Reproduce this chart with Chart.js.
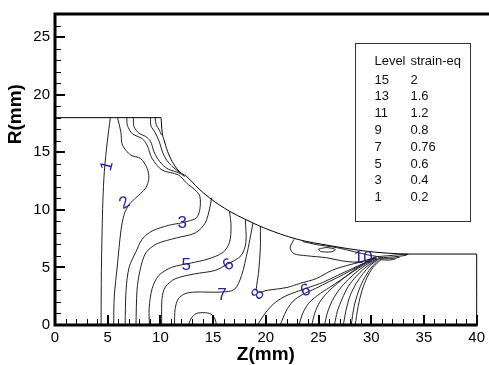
<!DOCTYPE html>
<html>
<head>
<meta charset="utf-8">
<script src="https://cdn.jsdelivr.net/npm/chart.js@4.4.1/dist/chart.umd.min.js"></script>
<style>
html,body{margin:0;padding:0;background:#fff;}
canvas{display:block;}
</style>
</head>
<body>
<canvas id="c" width="489" height="365"></canvas>
<script>
// ---------- data (Z, R in mm) ----------
const zTicks = [0, 5, 10, 15, 20, 25, 30, 35, 40];
const rTicks = [0, 5, 10, 15, 20, 25];

const legendLevels = ['15', '13', '11', '9', '7', '5', '3', '1'];
const legendStrain = ['2', '1.6', '1.2', '0.8', '0.76', '0.6', '0.4', '0.2'];

// workpiece / die outline
const outline = [[0,18],[10.05,18],[10.14,16.92],[10.40,15.89],[10.77,14.86],[11.24,14.0],[11.80,13.32],[12.49,12.89],[13.58,11.88],[14.68,11.02],[16.55,9.88],[18.11,9.15],[19.83,8.43],[22.95,7.45],[26.08,6.89],[29.23,6.44],[31.5,6.24],[33.6,6.16],[40,6.16],[40,0]];

// contour lines
const c1 = [[5.25,18],[4.96,15.9],[4.68,13.32],[4.54,10.74],[4.47,8.16],[4.40,4.73],[4.37,0]];
const c2 = [[5.93,18],[6.25,16.75],[6.40,15.61],[7.19,14.75],[8.12,14.46],[8.74,13.60],[8.90,12.74],[8.59,11.88],[7.65,11.02],[7.03,10.46],[6.56,9.60],[6.25,8.16],[5.93,5.30],[5.62,2.43],[5.57,0]];
const c3 = [[6.81,18],[6.87,17.33],[7.33,16.61],[8.27,16.18],[8.74,15.61],[9.21,14.46],[10.15,13.46],[11.71,13.03],[12.49,12.31],[13.27,11.74],[13.74,11.17],[13.74,10.03],[13.42,9.30],[12.65,9.02],[12.02,8.87],[10.77,8.65],[9.21,8.16],[8.27,7.45],[7.65,6.30],[7.03,5.01],[6.74,3.01],[6.65,0]];
const c3a = [[7.43,18],[7.49,17.23],[7.96,16.65],[8.59,16.37],[9.06,15.95],[9.37,15.09],[9.68,14.52],[10.15,13.95],[10.77,13.52],[11.71,13.23],[12.3,12.9]];
const c3b = [[9.06,18],[9.1,17.3],[9.5,16.7],[9.9,15.9],[10.2,15.0],[10.6,14.3],[11.2,13.7],[11.9,13.2]];
const c3c = [[9.5,18],[9.6,17.4],[9.9,16.9],[10.1,16.5]];
const c4 = [[14.85,11.04],[14.68,10.14],[14.24,8.85],[13.30,7.99],[11.52,7.56],[9.65,7.04],[8.62,6.27],[8.06,4.73],[7.78,3.01],[7.68,0]];
const c5 = [[16.55,9.88],[16.70,8.59],[16.55,7.16],[15.93,6.30],[14.52,5.73],[12.96,5.39],[11.08,5.01],[9.84,4.30],[9.21,3.15],[8.93,1.43],[8.96,0]];
const c6 = [[18.06,9.11],[18.11,7.16],[17.64,6.01],[16.39,5.30],[15.15,4.73],[13.27,4.44],[11.40,4.01],[10.46,3.29],[10.15,2.29],[10.12,0]];
const c7 = [[18.78,8.85],[18.55,7.73],[18.27,6.44],[17.70,4.30],[17.02,3.09],[15.77,2.86],[13.27,2.86],[12.34,2.72],[11.71,2.29],[11.40,1.43],[11.33,0]];
const c8 = [[19.48,8.58],[19.48,6.70],[19.30,4.47],[19.11,3.18],[19.25,2.85],[20.14,3.01],[22.01,3.26],[23.23,3.61],[24.82,4.04],[26.23,4.73],[27.63,5.15],[29.13,5.50],[30.16,5.76]];
const cDome = [[12.65,0],[12.93,0.60],[13.39,0.99],[14.14,1.07],[14.80,0.95],[15.18,0.52],[15.32,0]];
const f1 = [[19.20,0],[19.95,1.03],[20.70,1.80],[21.64,2.41],[22.76,2.84],[24.07,3.26],[25.39,3.69],[26.79,4.30],[28.20,4.90],[29.41,5.41],[30.35,5.84]];
const f2 = [[21.36,0],[21.92,1.20],[22.58,2.06],[23.51,2.66],[24.73,3.18],[26.04,3.78],[27.35,4.38],[28.57,4.98],[29.60,5.50],[30.44,5.84]];
const f3 = [[23.14,0],[23.51,1.03],[24.07,1.89],[24.92,2.58],[26.04,3.26],[27.17,3.95],[28.29,4.64],[29.32,5.24],[30.44,5.84]];
const f4 = [[24.36,0],[24.64,1.03],[25.11,1.98],[25.86,2.84],[26.79,3.61],[27.82,4.38],[28.85,5.07],[29.88,5.58],[30.54,5.84]];
const f5 = [[25.57,0],[25.86,1.12],[26.32,2.15],[26.98,3.09],[27.82,3.95],[28.76,4.73],[29.70,5.33],[30.54,5.76]];
const f6 = [[26.51,0],[26.79,1.20],[27.26,2.32],[27.82,3.35],[28.57,4.21],[29.32,4.90],[30.07,5.41],[30.63,5.76]];
const f7 = [[27.35,0],[27.63,1.37],[28.01,2.58],[28.57,3.61],[29.23,4.47],[29.88,5.15],[30.73,5.76]];
const f8 = [[28.10,0],[28.38,1.63],[28.76,2.84],[29.23,3.87],[29.79,4.73],[30.35,5.33],[30.82,5.76]];
const f9 = [[28.48,0],[28.76,1.63],[29.13,3.01],[29.60,4.12],[30.16,4.98],[30.91,5.67]];
const e1 = [[30.44,5.93],[31.57,6.01],[32.60,6.10],[33.54,6.14]];
const e2 = [[30.63,5.84],[31.66,5.88],[32.69,5.97],[33.35,6.06]];
const e3 = [[30.73,5.76],[31.85,5.76],[32.69,5.88]];
const e4 = [[30.82,5.67],[31.76,5.63],[32.32,5.76]];
const u1 = [[22.67,7.43],[22.30,6.70],[22.67,6.19],[23.89,6.01],[25.76,5.84],[27.17,5.58],[28.57,5.46],[29.70,5.67],[30.44,5.93]];
const u2 = [[23.5,7.25],[24.8,6.98],[26.7,6.72],[28.4,6.36],[29.7,6.08],[30.5,5.96]];
const uLoop = [[25.0,6.6],[25.8,6.72],[26.6,6.55],[26.2,6.35],[25.2,6.38],[25.0,6.6]];

const contours = [c1,c2,c3,c3a,c3b,c3c,c4,c5,c6,c7,c8,cDome,f1,f2,f3,f4,f5,f6,f7,f8,f9,e1,e2,e3,e4,u1,u2,uLoop];

// contour labels: text, Z, R, rotation (deg)
const labelText = ['1','2','3','5','6','7','8','6','10'];
const labelZ    = [4.87, 6.56, 12.08, 12.46, 16.39, 15.83, 19.20, 23.75, 29.23];
const labelR    = [13.83, 10.65, 8.89, 5.28, 5.28, 2.66, 2.71, 3.05, 5.88];
const labelRot  = [-75, -30, 0, 0, -35, 0, -60, -20, 0];

// ---------- chart ----------
const toXY = arr => arr.map(p => ({x: p[0], y: p[1]}));
const datasets = [
  {data: toXY(outline), borderColor: '#000', borderWidth: 1, tension: 0.3, cubicInterpolationMode: 'monotone'}
].concat(contours.map(c => ({data: toXY(c), borderColor: '#222', borderWidth: 1, tension: 0.3})));
datasets.forEach(d => { d.showLine = true; d.pointRadius = 0; d.fill = false; d.clip = false; });
// outline sharp corners: no smoothing at ends
datasets[0].tension = 0;

const frame = {
  id: 'frame',
  afterDraw(chart) {
    const {ctx, chartArea: a, scales: {x, y}} = chart;
    ctx.save();
    ctx.strokeStyle = '#000';
    ctx.lineCap = 'butt';
    // axis lines
    ctx.lineWidth = 3;
    ctx.beginPath();
    ctx.moveTo(a.left, a.top); ctx.lineTo(chart.width, a.top);
    ctx.moveTo(a.left, a.top - 1.5); ctx.lineTo(a.left, a.bottom + 1.5);
    ctx.moveTo(a.left - 1.5, a.bottom); ctx.lineTo(a.right + 1, a.bottom);
    ctx.stroke();
    // inward ticks
    for (let v = 0; v <= 40; v++) {
      const px = Math.round(x.getPixelForValue(v));
      const major = v % 5 === 0;
      ctx.lineWidth = major ? 2 : 1;
      ctx.beginPath();
      ctx.moveTo(px + (major ? 0 : 0.5), a.bottom);
      ctx.lineTo(px + (major ? 0 : 0.5), a.bottom - (major ? 10 : 6));
      ctx.stroke();
    }
    for (let v = 0; v <= 27; v++) {
      const py = Math.round(y.getPixelForValue(v));
      const major = v % 5 === 0;
      ctx.lineWidth = major ? 2 : 1;
      ctx.beginPath();
      ctx.moveTo(a.left, py + (major ? 0 : 0.5));
      ctx.lineTo(a.left + (major ? 10 : 6), py + (major ? 0 : 0.5));
      ctx.stroke();
    }
    // axis titles
    ctx.fillStyle = '#000';
    ctx.font = 'bold 19px "Liberation Sans", Arial, sans-serif';
    ctx.textAlign = 'center';
    ctx.textBaseline = 'middle';
    ctx.fillText('Z(mm)', (a.left + a.right) / 2, 355);
    ctx.save();
    ctx.translate(16, y.getPixelForValue(18.3));
    ctx.rotate(-Math.PI / 2);
    ctx.fillText('R(mm)', 0, 0);
    ctx.restore();

    // contour labels
    ctx.fillStyle = '#23239c';
    ctx.font = '17px "Liberation Sans", Arial, sans-serif';
    for (let i = 0; i < labelText.length; i++) {
      ctx.save();
      ctx.translate(x.getPixelForValue(labelZ[i]), y.getPixelForValue(labelR[i]));
      ctx.rotate(labelRot[i] * Math.PI / 180);
      ctx.fillText(labelText[i], 0, 1);
      ctx.restore();
    }

    // legend box
    const bx0 = x.getPixelForValue(28.5), bx1 = x.getPixelForValue(39.45);
    const by0 = y.getPixelForValue(24.48), by1 = y.getPixelForValue(9.02);
    ctx.fillStyle = '#fff';
    ctx.fillRect(bx0, by0, bx1 - bx0, by1 - by0);
    ctx.lineWidth = 1;
    ctx.strokeStyle = '#333';
    ctx.strokeRect(Math.round(bx0) + 0.5, Math.round(by0) + 0.5, Math.round(bx1 - bx0), Math.round(by1 - by0));
    ctx.fillStyle = '#111';
    ctx.font = '13px "Liberation Sans", Arial, sans-serif';
    ctx.textAlign = 'left';
    ctx.textBaseline = 'middle';
    ctx.fillText('Level', bx0 + 19, by0 + 18);
    ctx.fillText('strain-eq', bx0 + 55, by0 + 18);
    for (let i = 0; i < legendLevels.length; i++) {
      const ty = by0 + 37 + i * 16.8;
      ctx.fillText(legendLevels[i], bx0 + 19, ty);
      ctx.fillText(legendStrain[i], bx0 + 55, ty);
    }
    ctx.restore();
  }
};

new Chart(document.getElementById('c'), {
  type: 'scatter',
  data: {datasets},
  options: {
    responsive: false,
    animation: false,
    events: [],
    layout: {padding: {top: 11, right: 7, left: 0, bottom: 0}},
    plugins: {legend: {display: false}, tooltip: {enabled: false}},
    scales: {
      x: {
        type: 'linear', min: 0, max: 40,
        afterBuildTicks: s => { s.ticks = zTicks.map(v => ({value: v})); },
        afterFit: s => { s.height = 40; },
        grid: {display: false, drawTicks: false},
        border: {display: false},
        ticks: {color: '#000', padding: 4, maxRotation: 0, font: {family: '"Liberation Sans", Arial, sans-serif', size: 15}}
      },
      y: {
        type: 'linear', min: 0, max: 27,
        afterBuildTicks: s => { s.ticks = rTicks.map(v => ({value: v})); },
        afterFit: s => { s.width = 55; },
        grid: {display: false, drawTicks: false},
        border: {display: false},
        ticks: {color: '#000', padding: 5, font: {family: '"Liberation Sans", Arial, sans-serif', size: 15}}
      }
    }
  },
  plugins: [frame]
});
</script>
</body>
</html>
